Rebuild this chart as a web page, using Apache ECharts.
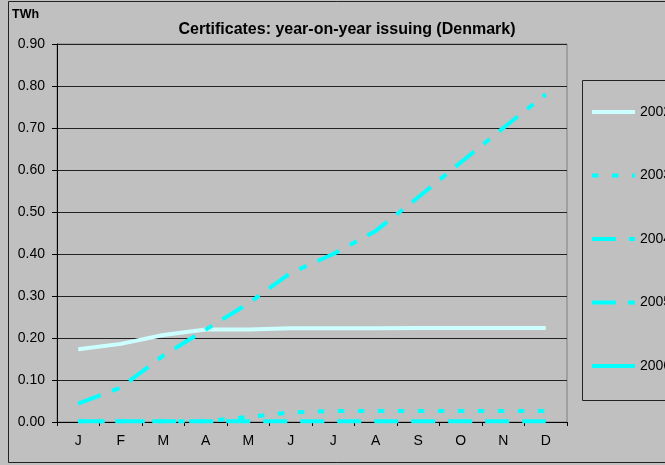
<!DOCTYPE html>
<html>
<head>
<meta charset="utf-8">
<script src="https://cdn.jsdelivr.net/npm/echarts@6/dist/echarts.min.js"></script>
<style>
  html, body { margin: 0; padding: 0; background: #c0c0c0; }
  #chart { width: 665px; height: 465px; }
</style>
</head>
<body>
<div id="chart"></div>
<script>
// months and yearly issuing in TWh
var months = ['J', 'F', 'M', 'A', 'M', 'J', 'J', 'A', 'S', 'O', 'N', 'D'];
var years = ['2002', '2003', '2004', '2005', '2006'];
var y2002 = [0.173, 0.186, 0.207, 0.220, 0.220, 0.223, 0.223, 0.223, 0.224, 0.224, 0.224, 0.224];
var y2003 = [0.002, 0.002, 0.002, 0.002, 0.012, 0.023, 0.026, 0.026, 0.026, 0.026, 0.026, 0.026];
var y2004 = [0.002, 0.002, 0.002, 0.002, 0.002, 0.002, 0.002, 0.002, 0.002, 0.002, 0.002, 0.002];
var y2005 = [0.044, 0.082, 0.158, 0.220, 0.282, 0.355, 0.400, 0.455, 0.535, 0.618, 0.700, 0.780];
var y2006 = [null, null, null, null, null, null, null, null, null, null, null, null];

var font = 'Liberation Sans, Arial, sans-serif';
var cyan = '#00ffff';

function line(name, data, color, dash) {
    return {
        name: name,
        type: 'line',
        data: data,
        symbol: 'none',
        animation: false,
        lineStyle: { color: color, width: 4, type: dash },
        itemStyle: { color: color }
    };
}

var myChart = echarts.init(document.getElementById('chart'));

var option = {
    backgroundColor: '#c0c0c0',
    textStyle: { fontFamily: font },
    title: {
        text: 'Certificates: year-on-year issuing (Denmark)',
        left: 342,
        top: 17,
        textAlign: 'center',
        textStyle: { fontSize: 16, fontWeight: 'bold', color: '#000', fontFamily: font }
    },
    graphic: [
        {
            type: 'rect', z: -1, silent: true,
            shape: { x: 8.5, y: 1.5, width: 700, height: 461 },
            style: { fill: null, stroke: '#222', lineWidth: 1 }
        },
        {
            type: 'rect', z: -1, silent: true,
            shape: { x: 582.5, y: 80.5, width: 120, height: 320 },
            style: { fill: null, stroke: '#222', lineWidth: 1 }
        },
        {
            type: 'text', left: 12, top: 8,
            style: { text: 'TWh', font: 'bold 12.5px ' + font, fill: '#000' }
        }
    ],
    legend: {
        data: years,
        orient: 'vertical',
        left: 590,
        top: 105,
        padding: 0,
        itemWidth: 43,
        itemHeight: 14,
        itemGap: 49.5,
        itemStyle: { opacity: 0 },
        lineStyle: { width: 4 },
        textStyle: { fontSize: 14, color: '#000', fontFamily: font }
    },
    grid: {
        left: 57,
        right: 98,
        top: 44,
        bottom: 43,
        show: true,
        borderColor: '#808080',
        borderWidth: 1,
        backgroundColor: 'transparent'
    },
    xAxis: {
        type: 'category',
        data: months,
        boundaryGap: true,
        axisLine: { lineStyle: { color: '#000', width: 1 } },
        axisTick: { show: true, length: 4, lineStyle: { color: '#000' } },
        axisLabel: { color: '#000', fontSize: 14, margin: 12 }
    },
    yAxis: {
        type: 'value',
        min: 0,
        max: 0.9,
        interval: 0.1,
        axisLine: { show: true, lineStyle: { color: '#000', width: 1 } },
        axisTick: { show: true, length: 5, lineStyle: { color: '#000' } },
        axisLabel: {
            color: '#000', fontSize: 14, margin: 12,
            formatter: function (v) { return v.toFixed(2); }
        },
        splitLine: { lineStyle: { color: '#222', width: 1 } }
    },
    series: [
        line('2002', y2002, '#ccffff', 'solid'),
        line('2003', y2003, cyan, [6.5, 13.5]),
        line('2004', y2004, cyan, [24, 13]),
        line('2005', y2005, cyan, [24, 12, 8, 12]),
        line('2006', y2006, cyan, 'solid')
    ]
};
myChart.setOption(option, true);
</script>
</body>
</html>
